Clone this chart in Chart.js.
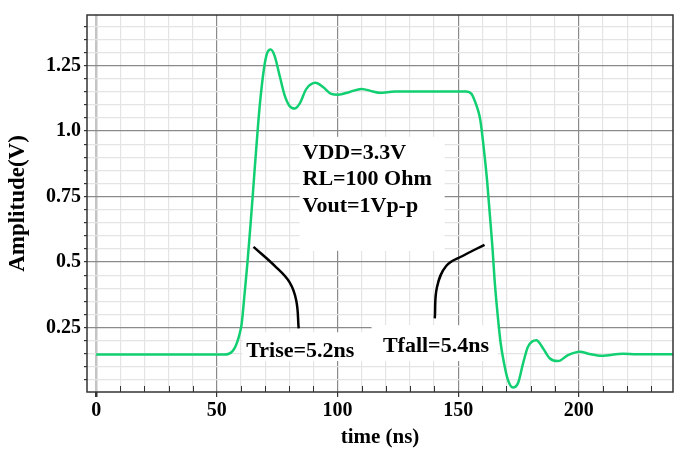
<!DOCTYPE html>
<html>
<head>
<meta charset="utf-8">
<script src="https://cdn.jsdelivr.net/npm/chart.js@4"></script>
<style>
  body { margin: 0; background: #fff; }
  #wrap { width: 674px; height: 450px; }
</style>
</head>
<body>
<div id="wrap"><canvas id="myChart" width="674" height="450"></canvas></div>
<script>
// output waveform (ns, V)
const timeNs = [0, 20, 40, 53, 55, 56.5, 57.7, 58.8, 59.6, 60.3, 61.5, 62.7, 63.8, 64.8, 65.8, 66.8, 67.8,
  69.5, 70.7, 72.3, 73.9, 76.0, 78.1, 80.1, 82.2, 84.3, 87.1, 90.9, 94.0, 97.4, 100.2, 105, 109.9,
  114.7, 117.5, 123.7, 140, 153.4, 155.5, 156.8, 158.2, 159.2, 160.6, 162.0, 163.1, 164.2, 165.1,
  166.3, 167.6, 169.0, 170.6, 172.7, 174.8, 176.9, 178.9, 182.4, 185.2, 187.9, 191.4, 195.5, 200.4,
  204.5, 209.4, 218.3, 223.9, 239];
const ampV = [0.147, 0.147, 0.147, 0.147, 0.150, 0.160, 0.178, 0.205, 0.232, 0.265, 0.38, 0.5, 0.625, 0.745, 0.87, 0.99, 1.10,
  1.237, 1.294, 1.311, 1.288, 1.212, 1.136, 1.096, 1.086, 1.105, 1.161, 1.184, 1.168, 1.142, 1.139, 1.149, 1.161,
  1.151, 1.146, 1.151, 1.151, 1.151, 1.142, 1.117, 1.080, 1.04, 0.934, 0.808, 0.682, 0.555, 0.429,
  0.303, 0.19, 0.114, 0.050, 0.021, 0.038, 0.114, 0.177, 0.202, 0.170, 0.133, 0.122, 0.145, 0.158,
  0.149, 0.142, 0.150, 0.148, 0.148];

// hand drawn pointer curves
const riseMarkX = [65.2, 74.6, 80.1, 82.9, 83.9];
const riseMarkY = [0.558, 0.480, 0.423, 0.353, 0.247];
const fallMarkX = [140.3, 141.2, 145.1, 152.0, 160.9];
const fallMarkY = [0.285, 0.404, 0.486, 0.524, 0.566];

const xMajorTicks = [0, 50, 100, 150, 200];
const xMinorTicks = [0, 10, 20, 30, 40, 50, 60, 70, 80, 90, 100, 110, 120, 130, 140, 150, 160, 170, 180, 190, 200, 210, 220, 230];
const yMajorTicks = [0.25, 0.5, 0.75, 1.0, 1.25];
const yTickLabels = ["0.25", "0.5", "0.75", "1.0", "1.25"];
const yMinorTicks = [0.05, 0.1, 0.15, 0.2, 0.25, 0.3, 0.35, 0.4, 0.45, 0.5, 0.55, 0.6, 0.65, 0.7, 0.75,
  0.8, 0.85, 0.9, 0.95, 1.0, 1.05, 1.1, 1.15, 1.2, 1.25, 1.3, 1.35, 1.4];

const infoLines = ["VDD=3.3V", "RL=100 Ohm", "Vout=1Vp-p"];
const riseText = "Trise=5.2ns";
const fallText = "Tfall=5.4ns";

const serif = "'Liberation Serif', 'Times New Roman', serif";

function isMajor(list, v) {
  return list.some((m) => Math.abs(m - v) < 1e-6);
}

const toPts = (xs, ys) => xs.map((x, i) => ({ x: x, y: ys[i] }));

const decor = {
  id: "decor",
  beforeDatasetsDraw(chart) {
    const { ctx, scales: { x, y } } = chart;
    ctx.save();
    ctx.fillStyle = "#fff";
    // white boxes behind the notes [x0, x1, yTop, yBottom] in data units
    [[84.3, 144.4, 0.978, 0.543], [60.6, 114.1, 0.232, 0.122], [114.1, 166.4, 0.259, 0.122]].forEach((b) => {
      const x0 = x.getPixelForValue(b[0]);
      const x1 = x.getPixelForValue(b[1]);
      const y0 = y.getPixelForValue(b[2]);
      const y1 = y.getPixelForValue(b[3]);
      ctx.fillRect(x0, y0, x1 - x0, y1 - y0);
    });
    // small inside ticks on the time axis
    const bottom = chart.chartArea.bottom;
    ctx.strokeStyle = "#333";
    ctx.lineWidth = 1;
    xMinorTicks.forEach((v) => {
      if (isMajor(xMajorTicks, v)) return;
      const px = Math.round(x.getPixelForValue(v)) + 0.5;
      ctx.beginPath();
      ctx.moveTo(px, bottom);
      ctx.lineTo(px, bottom - 6);
      ctx.stroke();
    });
    ctx.restore();
  },
  afterDatasetsDraw(chart) {
    const { ctx, chartArea: a, scales: { x, y } } = chart;
    ctx.save();
    ctx.fillStyle = "#000";
    ctx.font = "bold 22px " + serif;
    ctx.textBaseline = "alphabetic";
    ctx.textAlign = "left";
    const infoY = [0.895, 0.793, 0.69];
    infoLines.forEach((t, i) => {
      ctx.fillText(t, x.getPixelForValue(85.5), y.getPixelForValue(infoY[i]));
    });
    ctx.fillText(riseText, x.getPixelForValue(62.2), y.getPixelForValue(0.139));
    ctx.fillText(fallText, x.getPixelForValue(118.8), y.getPixelForValue(0.158));

    ctx.strokeStyle = "#333";
    ctx.lineWidth = 1.5;
    ctx.strokeRect(a.left, a.top, a.right - a.left, a.bottom - a.top);
    ctx.restore();
  },
};

const ctx = document.getElementById("myChart").getContext("2d");

const myChart = new Chart(ctx, {
  type: "scatter",
  data: {
    datasets: [
      {
        data: toPts(timeNs, ampV),
        showLine: true,
        borderColor: "#12cf72",
        borderWidth: 2.5,
        pointRadius: 0,
        cubicInterpolationMode: "monotone",
      },
      {
        data: toPts(riseMarkX, riseMarkY),
        showLine: true,
        borderColor: "#000",
        borderWidth: 2.5,
        pointRadius: 0,
        tension: 0.4,
      },
      {
        data: toPts(fallMarkX, fallMarkY),
        showLine: true,
        borderColor: "#000",
        borderWidth: 2.5,
        pointRadius: 0,
        tension: 0.4,
      },
    ],
  },
  options: {
    responsive: false,
    animation: false,
    layout: { padding: { top: 12, right: 1, left: 0, bottom: 0 } },
    plugins: {
      legend: { display: false },
      tooltip: { enabled: false },
    },
    scales: {
      x: {
        type: "linear",
        min: -3.8,
        max: 239,
        afterBuildTicks: (scale) => {
          scale.ticks = xMinorTicks.map((v) => ({ value: v }));
        },
        afterFit: (scale) => {
          scale.height = 58;
        },
        border: { display: false },
        grid: {
          color: (c) => {
            const v = c.tick ? c.tick.value : null;
            if (v === 0) return "#c4c4c4";
            return isMajor(xMajorTicks, v) ? "#8a8a8a" : "#e4e4e4";
          },
          lineWidth: (c) => (c.tick && c.tick.value === 0 ? 2.5 : 1.2),
          tickColor: (c) => (c.tick && isMajor(xMajorTicks, c.tick.value) ? "#333" : "rgba(0,0,0,0)"),
          tickLength: 5,
        },
        ticks: {
          autoSkip: false,
          maxRotation: 0,
          padding: 2,
          color: "#000",
          font: { family: serif, size: 20, weight: "bold" },
          callback: (v) => (isMajor(xMajorTicks, v) ? String(v) : ""),
        },
        title: {
          display: true,
          text: "time (ns)",
          color: "#000",
          font: { family: serif, size: 21, weight: "bold" },
          padding: { top: 0, bottom: 0 },
        },
      },
      y: {
        type: "linear",
        min: 0.004,
        max: 1.443,
        afterBuildTicks: (scale) => {
          scale.ticks = yMinorTicks.map((v) => ({ value: v }));
        },
        afterFit: (scale) => {
          scale.width = 87;
        },
        border: { display: false },
        grid: {
          color: (c) => (c.tick && isMajor(yMajorTicks, c.tick.value) ? "#8a8a8a" : "#e4e4e4"),
          lineWidth: 1.2,
          tickColor: "#333",
          tickLength: 3,
        },
        ticks: {
          autoSkip: false,
          padding: 3,
          color: "#000",
          font: { family: serif, size: 20, weight: "bold" },
          callback: (v) => {
            const i = yMajorTicks.findIndex((m) => Math.abs(m - v) < 1e-6);
            return i >= 0 ? yTickLabels[i] : "";
          },
        },
        title: {
          display: true,
          text: "Amplitude(V)",
          color: "#000",
          font: { family: serif, size: 23, weight: "bold" },
          padding: { top: 4, bottom: 0 },
        },
      },
    },
  },
  plugins: [decor],
});
</script>
</body>
</html>
